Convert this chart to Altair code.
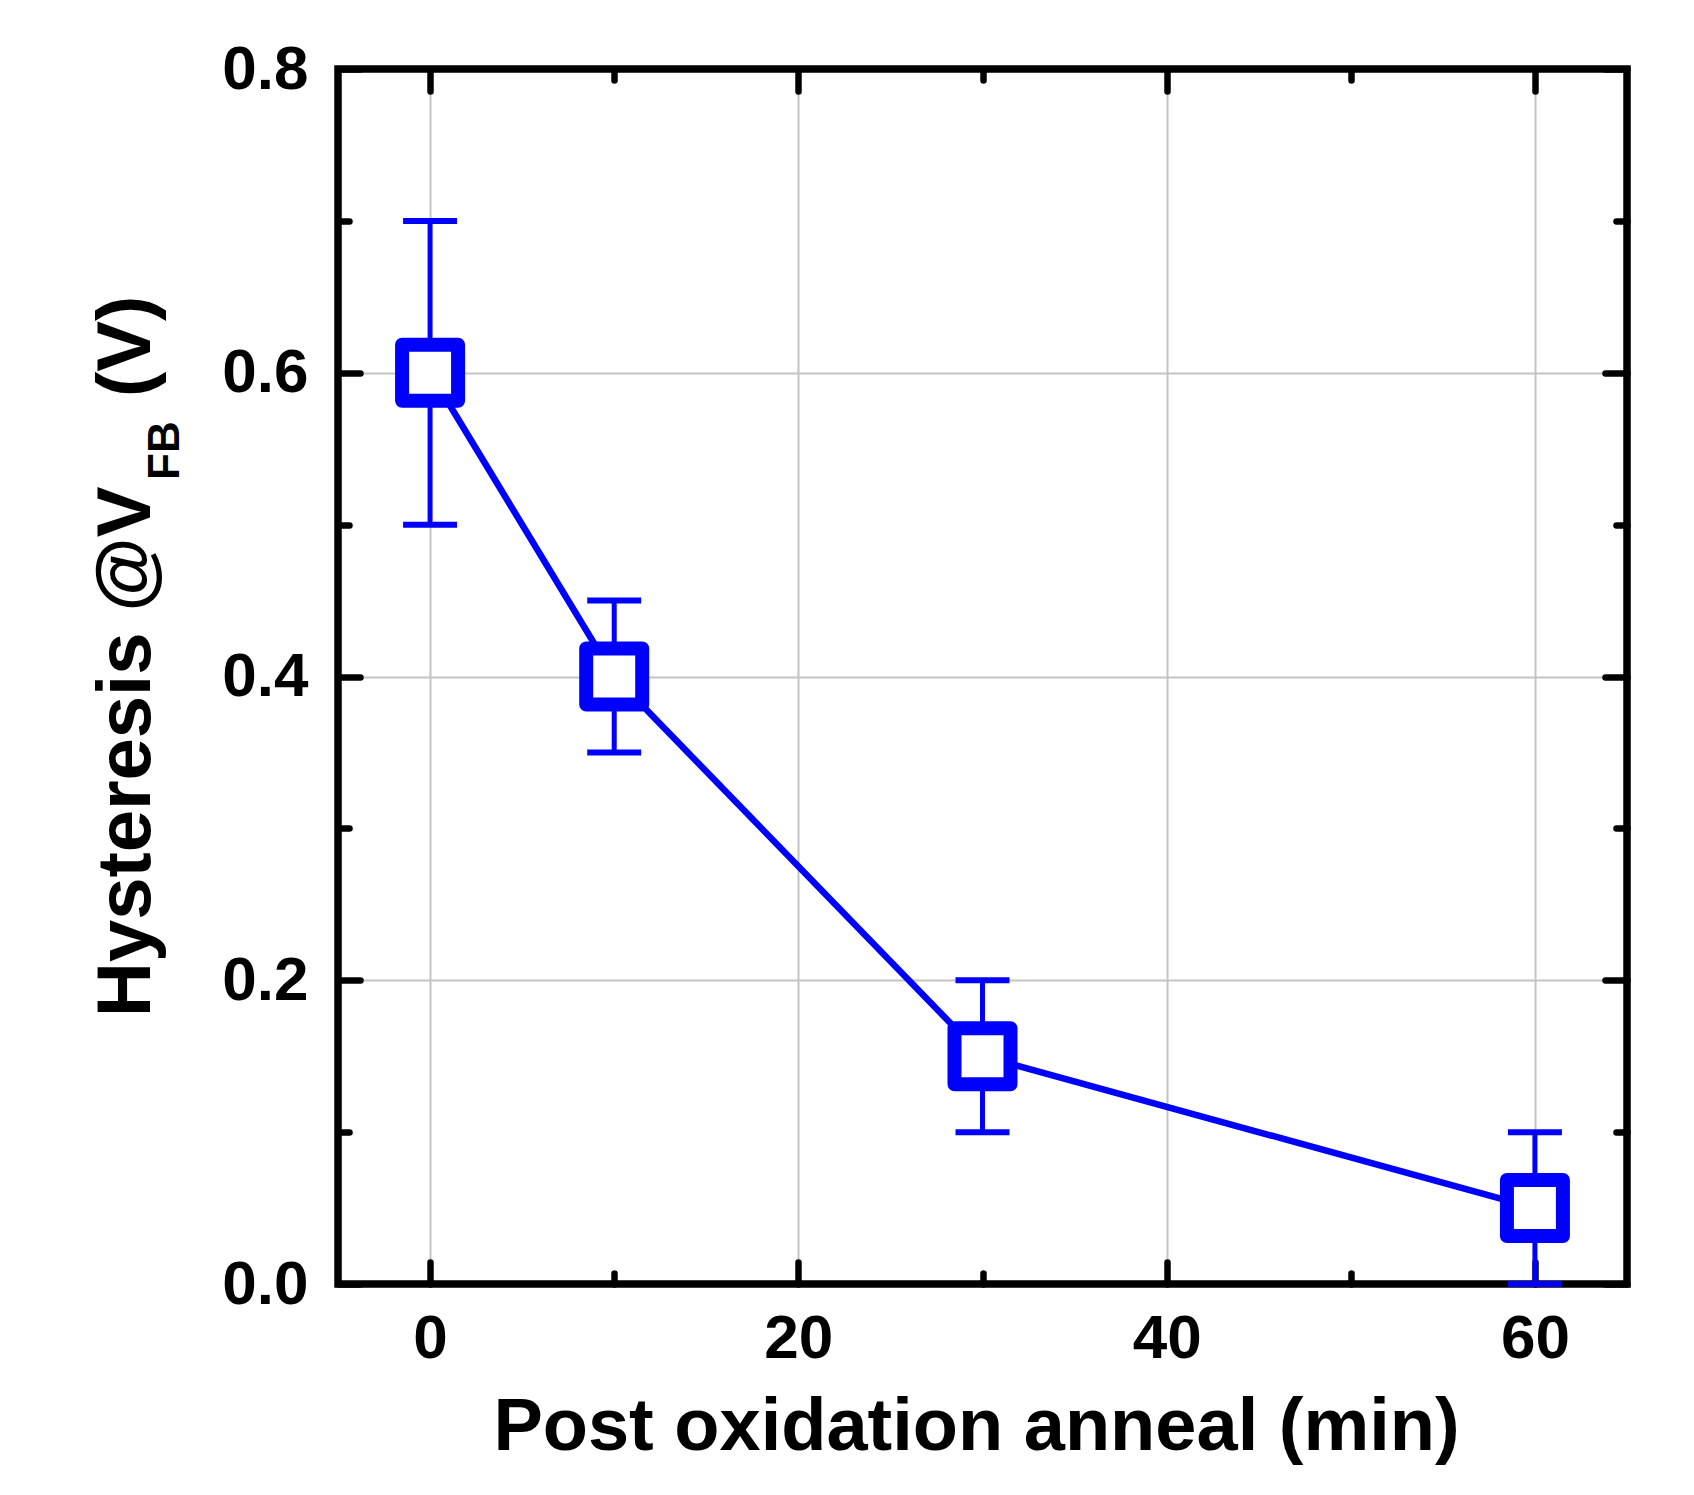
import altair as alt
import pandas as pd

# ---- data ----
anneal_min = [0, 10, 30, 60]
hysteresis = [0.60, 0.40, 0.15, 0.05]
err_low = [0.50, 0.35, 0.10, 0.00]
err_high = [0.70, 0.45, 0.20, 0.10]

x_major = [0, 20, 40, 60]
x_minor = [10, 30, 50]
y_major = [0.0, 0.2, 0.4, 0.6, 0.8]
y_minor = [0.1, 0.3, 0.5, 0.7]
y_grid = [0.2, 0.4, 0.6]

x_title = "Post oxidation anneal (min)"
y_title_main = "Hysteresis @V"
y_title_sub = "FB"
y_title_unit = "(V)"

W, H = 1289, 1215
FONT = "Liberation Sans"
BLUE = "#0000ff"

df = pd.DataFrame({"t": anneal_min, "h": hysteresis, "lo": err_low, "hi": err_high})

xs = alt.Scale(domain=[-5, 65], nice=False, zero=False)
ys = alt.Scale(domain=[0, 0.8], nice=False, zero=False)

base = alt.Chart(df)

# ---- data marks ----
bars = base.mark_rule(color=BLUE, strokeWidth=5).encode(
    x=alt.X("t:Q", scale=xs, axis=None),
    y=alt.Y("lo:Q", scale=ys, axis=None),
    y2="hi:Q",
)
cap_lo = base.mark_tick(color=BLUE, orient="horizontal", size=54, thickness=6, opacity=1).encode(
    x=alt.X("t:Q", scale=xs, axis=None),
    y=alt.Y("lo:Q", scale=ys, axis=None),
)
cap_hi = base.mark_tick(color=BLUE, orient="horizontal", size=54, thickness=6, opacity=1).encode(
    x=alt.X("t:Q", scale=xs, axis=None),
    y=alt.Y("hi:Q", scale=ys, axis=None),
)
line = base.mark_line(color=BLUE, strokeWidth=6.5).encode(
    x=alt.X("t:Q", scale=xs, axis=None),
    y=alt.Y("h:Q", scale=ys, axis=None),
)
points = base.mark_point(
    shape="square", size=3136, filled=False, fill="white", fillOpacity=1,
    stroke=BLUE, strokeWidth=14, strokeJoin="round", opacity=1,
).encode(
    x=alt.X("t:Q", scale=xs, axis=None),
    y=alt.Y("h:Q", scale=ys, axis=None),
)

# ---- axes (invisible carrier marks) ----
def carrier(xaxis, yaxis):
    return base.mark_point(opacity=0).encode(
        x=alt.X("t:Q", scale=xs, axis=xaxis),
        y=alt.Y("h:Q", scale=ys, axis=yaxis),
    )

def tick_axis(orient, values, size, offset):
    return alt.Axis(
        orient=orient, values=values, labels=False, domain=False, grid=False,
        ticks=True, tickSize=size, tickWidth=6.5, tickColor="black",
        tickCap="round", offset=offset, title=None,
    )

label_x = alt.Axis(
    orient="bottom", values=x_major, labels=True, ticks=False, tickSize=0,
    domain=False, grid=False, labelFont=FONT, labelFontSize=62,
    labelFontWeight="bold", labelColor="black", labelPadding=24,
    labelAngle=0, labelFlush=False, labelOverlap=False, format="d",
    title=x_title, titleFont=FONT, titleFontSize=74, titleFontWeight="bold",
    titleColor="black", titleX=638, titleY=165, titleBaseline="alphabetic",
    titleAlign="center", titleAngle=0,
)
label_y = alt.Axis(
    orient="left", values=y_major, labels=True, ticks=False, tickSize=0,
    domain=False, grid=False, labelFont=FONT, labelFontSize=62,
    labelFontWeight="bold", labelColor="black", labelPadding=30,
    labelFlush=False, labelOverlap=False, format=".1f", title=None,
)
grid_x = alt.Axis(orient="bottom", values=x_major, labels=False, ticks=False,
                  domain=False, grid=True, gridColor="#c4c4c4", gridWidth=2, title=None)
grid_y = alt.Axis(orient="left", values=y_grid, labels=False, ticks=False,
                  domain=False, grid=True, gridColor="#c4c4c4", gridWidth=2, title=None)

MAJ, MIN = 22, 11
axes_layers = [
    carrier(grid_x, grid_y),
    carrier(label_x, label_y),
    # inward ticks on bottom / left
    carrier(tick_axis("top", x_major, MAJ, -H), tick_axis("right", y_major, MAJ, -W)),
    carrier(tick_axis("top", x_minor, MIN, -H), tick_axis("right", y_minor, MIN, -W)),
    # inward ticks on top / right
    carrier(tick_axis("bottom", x_major, MAJ, -H), tick_axis("left", y_major, MAJ, -W)),
    carrier(tick_axis("bottom", x_minor, MIN, -H), tick_axis("left", y_minor, MIN, -W)),
]

# ---- y title with subscript ----
def ytext(s, x, y, size):
    return alt.Chart(pd.DataFrame({"s": [s]})).mark_text(
        angle=270, align="left", baseline="alphabetic", font=FONT,
        fontSize=size, fontWeight="bold", color="black",
    ).encode(x=alt.value(x), y=alt.value(y), text="s:N")

titles = [
    ytext(y_title_main, -188, 948, 76),
    ytext(y_title_sub, -159, 411, 44),
    ytext(y_title_unit, -188, 328, 76),
]

chart = alt.layer(
    *axes_layers, bars, line, points, cap_lo, cap_hi, *titles
).resolve_axis(
    x="independent", y="independent"
).properties(
    width=W, height=H,
    background="white",
    autosize=alt.AutoSizeParams(type="none"),
    padding={"left": 330, "top": 61, "right": 59, "bottom": 203},
).configure_view(
    stroke="black", strokeWidth=7.5
)

chart.save("out.html", embed_options={"renderer": "svg", "actions": False})
